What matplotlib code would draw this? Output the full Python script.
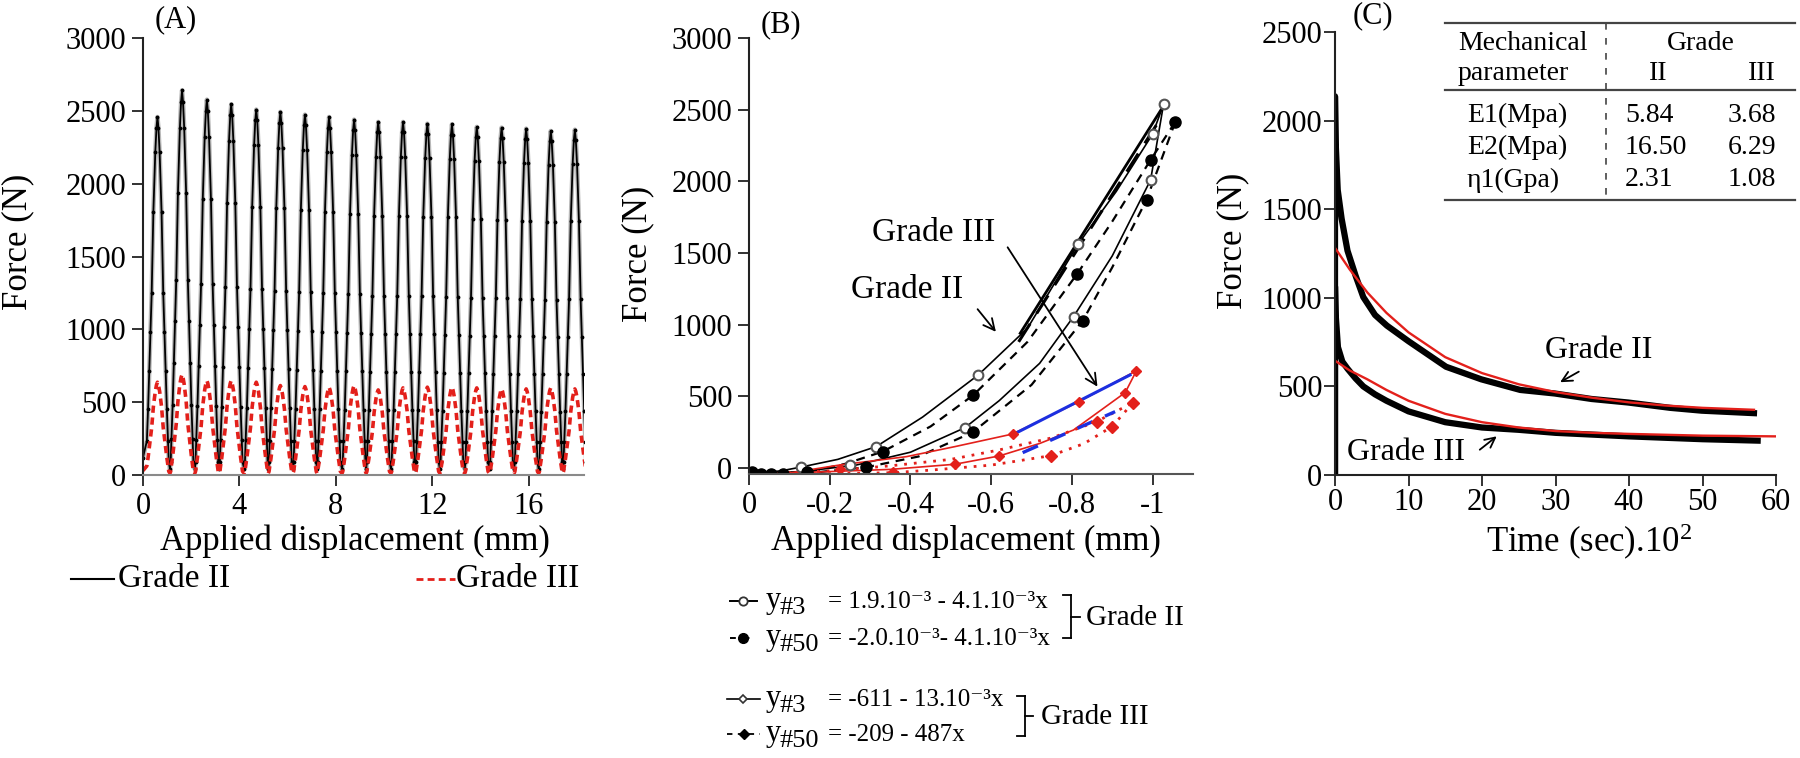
import matplotlib.pyplot as plt
from matplotlib.lines import Line2D

plt.rcParams['font.family'] = ['Liberation Serif', 'DejaVu Serif']
plt.rcParams['mathtext.fontset'] = 'custom'
plt.rcParams['mathtext.rm'] = 'Liberation Serif'
plt.rcParams['mathtext.it'] = 'Liberation Serif:italic'
plt.rcParams['mathtext.bf'] = 'Liberation Serif:bold'

W, H = 1800, 758
RED = '#e3201b'
BLUE = '#1c2fe0'

# ---------------- (A) cyclic loading ----------------
peak_x = [0.6, 1.62, 2.65, 3.66, 4.7, 5.7, 6.72, 7.72, 8.76, 9.76,
          10.79, 11.8, 12.82, 13.85, 14.88, 15.9, 16.92, 17.92]
peak_g2 = [2458, 2641, 2577, 2545, 2509, 2493, 2474, 2458, 2440, 2424,
           2424, 2412, 2408, 2390, 2385, 2378, 2362, 2371]
peak_g3 = [637, 690, 648, 648, 637, 614, 607, 603, 614, 584,
           598, 603, 603, 598, 591, 591, 598, 591]
trough_g2, trough_g3 = 40, 12
start_g2, start_g3 = 120, 30
# shape of one cycle (offset from peak, share of peak height)
cycle_dx = [-0.5, -0.47, -0.44, -0.39, -0.34, -0.29, -0.24, -0.17, -0.09, -0.04, 0,
            0.04, 0.09, 0.17, 0.24, 0.29, 0.34, 0.39, 0.44, 0.47]
cycle_frac = [0, 0.02, 0.08, 0.17, 0.28, 0.39, 0.5, 0.73, 0.9, 0.97, 1,
              0.97, 0.9, 0.73, 0.5, 0.39, 0.28, 0.17, 0.08, 0.02]

# ---------------- (B) hysteresis loops ----------------
g2_3_up_x = [0, -0.08, -0.13, -0.22, -0.315, -0.43, -0.568, -0.69, -0.815, -0.91, -1.0, -1.027]
g2_3_up_y = [-40, -20, 7, 60, 149, 355, 649, 975, 1560, 1930, 2330, 2537]
g2_3_dn_x = [-1.027, -0.995, -0.9, -0.804, -0.72, -0.62, -0.535, -0.4, -0.265, -0.13, 0]
g2_3_dn_y = [2537, 2010, 1480, 1056, 730, 470, 281, 110, 20, -25, -40]
g2_3_mk_x = [-0.13, -0.315, -0.568, -0.815, -1.0, -1.027, -0.995, -0.804, -0.535, -0.25]
g2_3_mk_y = [7, 149, 649, 1560, 2330, 2537, 2010, 1056, 281, 20]

g2_50_up_x = [0, -0.144, -0.24, -0.331, -0.45, -0.556, -0.69, -0.813, -0.9, -0.995, -1.056]
g2_50_up_y = [-45, -30, 30, 114, 290, 509, 880, 1354, 1720, 2150, 2414]
g2_50_dn_x = [-1.056, -0.985, -0.9, -0.827, -0.7, -0.554, -0.42, -0.29, -0.15, 0]
g2_50_dn_y = [2414, 1872, 1400, 1028, 580, 249, 80, 5, -35, -45]
g2_50_mk_x = [-0.007, -0.029, -0.054, -0.085, -0.144, -0.331, -0.556, -0.813, -0.995, -1.056,
              -0.985, -0.827, -0.554, -0.29]
g2_50_mk_y = [-26, -40, -40, -40, -30, 114, 509, 1354, 2150, 2414, 1872, 1028, 249, 5]

g3_3_up_x = [0, -0.1, -0.225, -0.39, -0.51, -0.653, -0.818, -0.96]
g3_3_up_y = [-45, -35, 21, 79, 149, 237, 463, 679]
g3_3_dn_x = [-0.96, -0.932, -0.804, -0.721, -0.62, -0.51, -0.35, -0.2, 0]
g3_3_dn_y = [679, 526, 265, 172, 84, 26, -10, -25, -45]
g3_3_mk_x = [-0.225, -0.653, -0.818, -0.96, -0.932, -0.62, -0.51]
g3_3_mk_y = [-7, 237, 463, 679, 526, 84, 26]

g3_50_up_x = [0, -0.2, -0.35, -0.5, -0.62, -0.75, -0.861, -0.951]
g3_50_up_y = [-45, -20, 15, 60, 126, 210, 323, 456]
g3_50_dn_x = [-0.951, -0.925, -0.899, -0.83, -0.748, -0.6, -0.45, -0.356, -0.2, 0]
g3_50_dn_y = [456, 370, 288, 170, 86, 20, -15, -33, -40, -45]
g3_50_mk_x = [-0.951, -0.899, -0.861, -0.748, -0.356]
g3_50_mk_y = [456, 288, 323, 86, -33]

fit_g2_3_x, fit_g2_3_y = [-0.672, -1.03], [940, 2540]
fit_g2_50_x, fit_g2_50_y = [-0.668, -1.013], [880, 2409]
fit_g3_3_x, fit_g3_3_y = [-0.663, -0.944], [246, 649]
fit_g3_50_x, fit_g3_50_y = [-0.678, -0.907], [107, 393]

b_ticks = [0, -0.2, -0.4, -0.6, -0.8, -1]
b_ticklabels = ['0', '-0.2', '-0.4', '-0.6', '-0.8', '-1']

# legend rows of panel B: subscript, equation
b_leg_sub = ['#3', '#50', '#3', '#50']
b_leg_eq = ['= 1.9.10⁻³ - 4.1.10⁻³x',
            '= -2.0.10⁻³- 4.1.10⁻³x',
            '= -611 - 13.10⁻³x',
            '= -209 - 487x']

# ---------------- (C) relaxation ----------------
c_t_g2 = [0, 0, 0.1, 0.37, 0.9, 1.7, 2.8, 3.85, 5.45, 7.06, 10, 15.1, 19.9, 25.2, 29.9,
          34.9, 39.9, 45.6, 49.9, 57]
c_f_g2 = [0, 2137, 1867, 1609, 1447, 1266, 1125, 1004, 903, 843, 755, 611, 540, 480, 460,
          429, 409, 379, 363, 349]
c_t_g3 = [0, 0, 0.1, 0.4, 1.0, 1.7, 2.8, 3.85, 5.45, 7, 10, 15, 20, 25, 30, 35, 40, 45, 50, 57.5]
c_f_g3 = [0, 1064, 900, 722, 640, 600, 545, 500, 455, 419, 359, 298, 268, 255, 238, 228, 218,
          210, 202, 194]
c_fit_t2 = [0, 2, 4.4, 7, 10, 15, 20, 25, 30, 35, 40, 45, 50, 57]
c_fit_g2 = [1282, 1160, 1030, 915, 805, 665, 575, 512, 468, 436, 410, 392, 379, 368]
c_fit_t3 = [0, 2, 4.4, 7, 10, 15, 20, 25, 30, 35, 40, 50, 60]
c_fit_g3 = [645, 590, 540, 480, 419, 345, 298, 268, 248, 238, 232, 222, 218]

table_rows = ['E1(Mpa)', 'E2(Mpa)', 'η1(Gpa)']
table_g2 = ['5.84', '16.50', '2.31']
table_g3 = ['3.68', '6.29', '1.08']


def fx(px):
    return px / W


def fy(py):
    return 1 - py / H


fig = plt.figure(figsize=(W / 100, H / 100), dpi=100)


def put_axes(l, t, r, b):
    return fig.add_axes([fx(l), fy(b), (r - l) / W, (b - t) / H])


def style(ax, bottom_color='#222222', pad=4):
    ax.spines['top'].set_visible(False)
    ax.spines['right'].set_visible(False)
    ax.spines['left'].set_color('#222222')
    ax.spines['bottom'].set_color(bottom_color)
    ax.spines['left'].set_linewidth(1.5)
    ax.spines['bottom'].set_linewidth(1.5)
    ax.tick_params(direction='out', length=8, width=1.3, labelsize=22, pad=pad, color='#222222')


def flig(x0, x1, y, **kw):
    fig.add_artist(Line2D([fx(x0), fx(x1)], [fy(y), fy(y)], **kw))


def vlig(x, y0, y1, **kw):
    fig.add_artist(Line2D([fx(x), fx(x)], [fy(y0), fy(y1)], **kw))


def cycle_trace(peaks, trough, start):
    xs, ys = [0.0], [start]
    for xp, pk in zip(peak_x, peaks):
        for dx, f in zip(cycle_dx, cycle_frac):
            if xp + dx < 0.15:
                continue
            xs.append(xp + dx)
            ys.append(trough + f * (pk - trough))
    return xs, ys


# ---- panel A
axA = put_axes(143, 38, 584, 475)
style(axA, bottom_color='#8a8a8a')
x2, y2 = cycle_trace(peak_g2, trough_g2, start_g2)
x3, y3 = cycle_trace(peak_g3, trough_g3, start_g3)
axA.plot(x2, y2, color='#9a9a9a', lw=3.2, alpha=0.7)
axA.plot(x2, y2, color='black', lw=1.3, marker='.', ms=3.5)
axA.plot(x3, y3, color=RED, lw=2.6, dashes=(2.0, 1.3))
axA.set_xlim(0, 18.3)
axA.set_ylim(0, 3000)
axA.set_xticks([0, 4, 8, 12, 16])
axA.set_yticks(range(0, 3001, 500))

fig.text(fx(176), fy(20), '(A)', ha='center', va='center', fontsize=22)
fig.text(fx(18), fy(242), 'Force (N)', rotation=90, ha='center', va='center', fontsize=25)
fig.text(fx(355), fy(541), 'Applied displacement (mm)', ha='center', va='center', fontsize=25)
flig(71, 114, 579, color='black', lw=1.5)
fig.text(fx(118), fy(579), 'Grade II', ha='left', va='center', fontsize=24)
flig(416, 455, 579, color=RED, lw=2, dashes=(2.5, 1.5))
fig.text(fx(456), fy(579), 'Grade III', ha='left', va='center', fontsize=24)

# ---- panel B
axB = put_axes(749, 38, 1193, 474)
style(axB, bottom_color='#555555')
axB.plot(g2_3_up_x, g2_3_up_y, color='black', lw=1.2)
axB.plot(g2_3_dn_x, g2_3_dn_y, color='black', lw=1.2)
axB.plot(g2_50_up_x, g2_50_up_y, color='black', lw=1.6, dashes=(4, 3))
axB.plot(g2_50_dn_x, g2_50_dn_y, color='black', lw=1.6, dashes=(4, 3))
axB.plot(fit_g2_3_x, fit_g2_3_y, color='black', lw=2.0)
axB.plot(fit_g2_50_x, fit_g2_50_y, color='black', lw=2.2, dashes=(7, 4))
axB.plot(g3_3_up_x, g3_3_up_y, color=RED, lw=1.2)
axB.plot(g3_3_dn_x, g3_3_dn_y, color=RED, lw=1.2)
axB.plot(g3_50_up_x, g3_50_up_y, color=RED, lw=2.0, dashes=(1, 2.5))
axB.plot(g3_50_dn_x, g3_50_dn_y, color=RED, lw=2.0, dashes=(1, 2.5))
axB.plot(fit_g3_3_x, fit_g3_3_y, color=BLUE, lw=2.2)
axB.plot(fit_g3_50_x, fit_g3_50_y, color=BLUE, lw=2.4, dashes=(5, 4))
axB.plot(g2_3_mk_x, g2_3_mk_y, 'o', ms=7, mfc='white', mec='#555555', mew=1.5)
axB.plot(g2_50_mk_x, g2_50_mk_y, 'o', ms=8, color='black')
axB.plot(g3_3_mk_x, g3_3_mk_y, 'D', ms=5, color=RED)
axB.plot(g3_50_mk_x, g3_50_mk_y, 'D', ms=6, color=RED)
axB.annotate('', xy=(-0.867, 551), xytext=(-0.637, 1556),
             arrowprops=dict(arrowstyle='->', lw=1.3, color='black', mutation_scale=20))
axB.text(-0.458, 1640, 'Grade III', ha='center', va='center', fontsize=24)
axB.annotate('', xy=(-0.616, 935), xytext=(-0.562, 1123),
             arrowprops=dict(arrowstyle='->', lw=1.3, color='black', mutation_scale=20))
axB.text(-0.391, 1242, 'Grade II', ha='center', va='center', fontsize=24)
axB.set_xlim(0, -1.1)
axB.set_ylim(-42, 3000)
axB.set_xticks(b_ticks)
axB.set_xticklabels(b_ticklabels)
axB.set_yticks(range(0, 3001, 500))

fig.text(fx(781), fy(25), '(B)', ha='center', va='center', fontsize=22)
fig.text(fx(638), fy(254), 'Force (N)', rotation=90, ha='center', va='center', fontsize=25)
fig.text(fx(966), fy(541), 'Applied displacement (mm)', ha='center', va='center', fontsize=25)

# legend of panel B (equations)
row_base = [608, 645, 706, 741]
flig(730, 757, row_base[0] - 7, color='black', lw=1.4)
fig.add_artist(Line2D([fx(743)], [fy(row_base[0] - 7)], marker='o', ms=6, mfc='white', mec='#333333', mew=1.3))
flig(730, 757, row_base[1] - 7, color='black', lw=1.4, dashes=(3, 4))
fig.add_artist(Line2D([fx(743)], [fy(row_base[1] - 7)], marker='o', ms=7, color='black'))
flig(727, 760, row_base[2] - 7, color='black', lw=1.2)
fig.add_artist(Line2D([fx(743)], [fy(row_base[2] - 7)], marker='D', ms=4, mfc='white', mec='#333333', mew=1.2))
flig(727, 760, row_base[3] - 7, color='black', lw=1.3, dashes=(3, 3))
fig.add_artist(Line2D([fx(744)], [fy(row_base[3] - 7)], marker='D', ms=5, color='black'))

for yb, sub, eq in zip(row_base, b_leg_sub, b_leg_eq):
    fig.text(fx(766), fy(yb), 'y', ha='left', va='baseline', fontsize=22)
    fig.text(fx(779), fy(yb + 6), sub, ha='left', va='baseline', fontsize=19)
    fig.text(fx(828), fy(yb), eq, ha='left', va='baseline', fontsize=18)

vlig(1071, 595, 638, color='black', lw=1.3)
flig(1063, 1071, 595, color='black', lw=1.3)
flig(1063, 1071, 638, color='black', lw=1.3)
flig(1071, 1080, 617, color='black', lw=1.3)
fig.text(fx(1086), fy(618), 'Grade II', ha='left', va='center', fontsize=21)
vlig(1025, 696, 736, color='black', lw=1.3)
flig(1017, 1025, 696, color='black', lw=1.3)
flig(1017, 1025, 736, color='black', lw=1.3)
flig(1025, 1033, 716, color='black', lw=1.3)
fig.text(fx(1041), fy(717), 'Grade III', ha='left', va='center', fontsize=21)

# ---- panel C
axC = put_axes(1335, 32, 1776, 475)
style(axC, pad=1)
axC.plot(c_t_g2, c_f_g2, color='black', lw=4.5, solid_joinstyle='round')
axC.plot(c_t_g3, c_f_g3, color='black', lw=4.5, solid_joinstyle='round')
axC.plot(c_fit_t2, c_fit_g2, color=RED, lw=1.7)
axC.plot(c_fit_t3, c_fit_g3, color=RED, lw=1.7)
axC.annotate('', xy=(30.3, 516), xytext=(33.5, 591),
             arrowprops=dict(arrowstyle='->', lw=1.3, color='black', mutation_scale=18))
axC.text(35.9, 702, 'Grade II', ha='center', va='center', fontsize=23)
axC.annotate('', xy=(22.3, 228), xytext=(19.4, 133),
             arrowprops=dict(arrowstyle='->', lw=1.3, color='black', mutation_scale=18))
axC.text(9.7, 127, 'Grade III', ha='center', va='center', fontsize=23)
axC.set_xlim(0, 60)
axC.set_ylim(0, 2500)
axC.set_xticks(range(0, 61, 10))
axC.set_yticks(range(0, 2501, 500))

fig.text(fx(1373), fy(16), '(C)', ha='center', va='center', fontsize=22)
fig.text(fx(1233), fy(241), 'Force (N)', rotation=90, ha='center', va='center', fontsize=25)
fig.text(fx(1589), fy(542), 'Time (sec).10$^2$', ha='center', va='center', fontsize=25)

# table inside panel C
flig(1445, 1795, 23, color='#444444', lw=1.6)
flig(1445, 1795, 90, color='#444444', lw=1.6)
flig(1445, 1795, 200, color='#444444', lw=1.6)
vlig(1606, 23, 200, color='#444444', lw=1.2, dashes=(4, 5))
fig.text(fx(1458), fy(43), 'Mechanical', ha='left', va='center', fontsize=20)
fig.text(fx(1458), fy(73), 'parameter', ha='left', va='center', fontsize=20)
fig.text(fx(1701), fy(43), 'Grade', ha='center', va='center', fontsize=20)
fig.text(fx(1658), fy(73), 'II', ha='center', va='center', fontsize=20)
fig.text(fx(1762), fy(73), 'III', ha='center', va='center', fontsize=20)
for yy, name, v2, v3 in zip([115, 147, 180], table_rows, table_g2, table_g3):
    fig.text(fx(1467), fy(yy), name, ha='left', va='center', fontsize=20)
    fig.text(fx(1625), fy(yy), v2, ha='left', va='center', fontsize=20)
    fig.text(fx(1728), fy(yy), v3, ha='left', va='center', fontsize=20)

fig.savefig('out.png', dpi=100)
